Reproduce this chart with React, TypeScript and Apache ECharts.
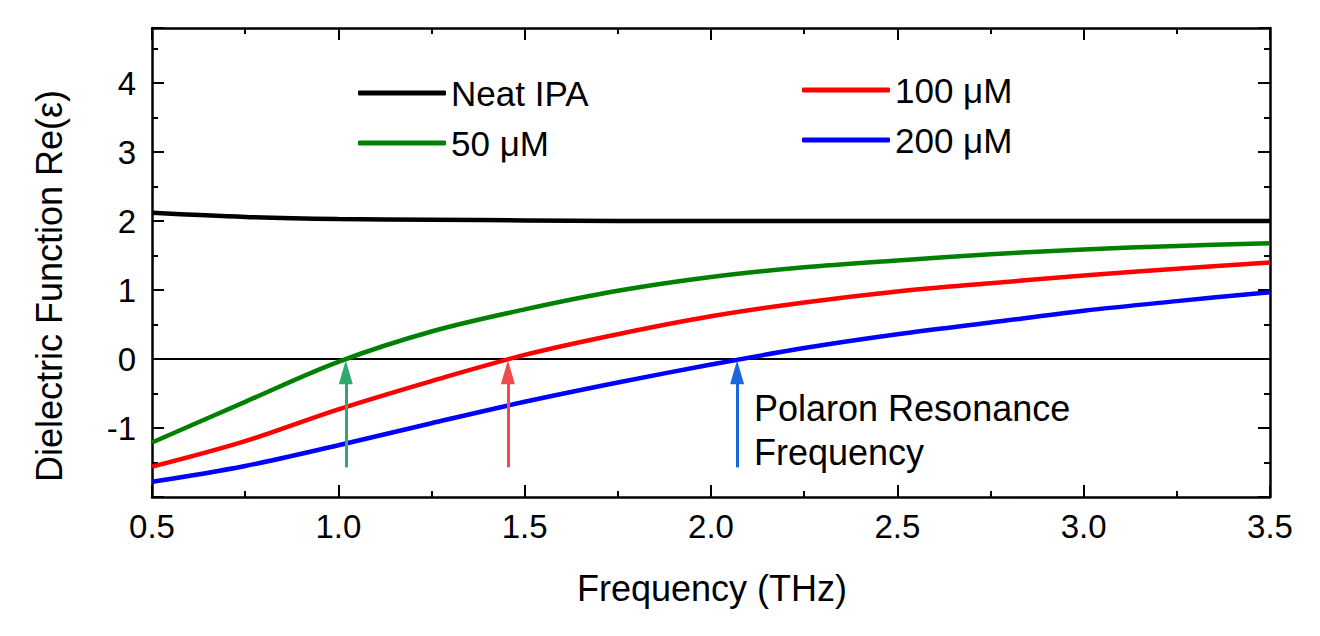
import React, { useEffect, useRef } from "react";
import * as echarts from "echarts";

const FONT = '"Liberation Sans", Arial, Helvetica, sans-serif';

const freq = [0.5, 0.75, 1.0, 1.25, 1.5, 1.75, 2.0, 2.25, 2.5, 2.75, 3.0, 3.25, 3.5];
const neatIPA = [2.12, 2.06, 2.03, 2.02, 2.01, 2.0, 2.0, 2.0, 2.0, 2.0, 2.0, 2.0, 2.0];
const conc50 = [-1.21, -0.62, -0.04, 0.4, 0.72, 0.99, 1.19, 1.33, 1.43, 1.52, 1.59, 1.64, 1.68];
const conc100 = [-1.56, -1.19, -0.73, -0.32, 0.06, 0.36, 0.62, 0.82, 0.98, 1.1, 1.21, 1.31, 1.4];
const conc200 = [-1.78, -1.55, -1.25, -0.93, -0.62, -0.34, -0.08, 0.16, 0.36, 0.53, 0.7, 0.84, 0.97];

const seriesNames = ["Neat IPA", "50 μM", "100 μM", "200 μM"];
const seriesColors = ["#000000", "#008000", "#ff0000", "#0000ff"];
const seriesValues = [neatIPA, conc50, conc100, conc200];

// Polaron resonance frequencies (zero crossings) for 50, 100, 200 μM
const resonanceFreqs = [1.02, 1.455, 2.07];
const arrowColors = ["#2fa96c", "#f24a4c", "#1a66dc"];
const arrowStart = -1.57;
const arrowEnd = -0.19;

const xTicks = { min: 0.5, max: 3.5, interval: 0.5 };
const yTicks = { min: -2, max: 4.8, interval: 1 };

export default function App() {
  const ref = useRef<HTMLDivElement>(null);

  useEffect(() => {
    if (!ref.current) return;
    const chart = echarts.init(ref.current, undefined, { renderer: "svg" });

    const axisLine = { show: true, onZero: false, lineStyle: { color: "#000", width: 2.5 } };
    const majorTick = { show: true, inside: true, length: 12, lineStyle: { color: "#000", width: 2 } };
    const minorTickX = { show: true, splitNumber: 2, length: 6, lineStyle: { color: "#000", width: 2 } };
    const halfTick = { show: true, inside: true, length: 6, lineStyle: { color: "#000", width: 2 } };

    const xBase = {
      type: "value",
      min: xTicks.min,
      max: xTicks.max,
      interval: xTicks.interval,
      axisLine,
      axisTick: majorTick,
      minorTick: minorTickX,
      splitLine: { show: false },
      minorSplitLine: { show: false },
    };
    const yBase = {
      type: "value",
      min: yTicks.min,
      max: yTicks.max,
      splitLine: { show: false },
    };

    const series: any[] = seriesValues.map((vals, i) => ({
      name: seriesNames[i],
      type: "line",
      xAxisIndex: 0,
      yAxisIndex: 0,
      data: freq.map((f, j) => [f, vals[j]]),
      smooth: 0.35,
      showSymbol: false,
      symbol: "none",
      lineStyle: { color: seriesColors[i], width: 4.5 },
      itemStyle: { color: seriesColors[i] },
      emphasis: { disabled: true },
      z: 2,
    }));

    series[0].markLine = {
      silent: true,
      z: 1,
      symbol: ["none", "none"],
      label: { show: false },
      emphasis: { disabled: true },
      lineStyle: { color: "#000", width: 2, type: "solid" },
      data: [{ yAxis: 0 }],
    };

    resonanceFreqs.forEach((f, i) => {
      series[i + 1].markLine = {
        silent: true,
        z: 5,
        symbol: ["none", "triangle"],
        symbolSize: [14, 24],
        label: { show: false },
        emphasis: { disabled: true },
        lineStyle: { color: arrowColors[i], width: 3, type: "solid", opacity: 1 },
        itemStyle: { color: arrowColors[i] },
        data: [[{ coord: [f, arrowStart] }, { coord: [f, arrowEnd] }]],
      };
    });

    const legendCommon = {
      orient: "vertical",
      padding: 0,
      itemGap: 10,
      itemWidth: 88,
      itemHeight: 5,
      icon: "roundRect",
      selectedMode: false,
      textStyle: { fontFamily: FONT, fontSize: 35, lineHeight: 40, color: "#000" },
    };

    const option: any = {
      animation: false,
      backgroundColor: "#ffffff",
      textStyle: { fontFamily: FONT },
      grid: { left: 152, right: 50, top: 28, bottom: 139, containLabel: false },
      legend: [
        { ...legendCommon, left: 358, top: 73, data: [seriesNames[0], seriesNames[1]] },
        { ...legendCommon, left: 802, top: 70, data: [seriesNames[2], seriesNames[3]] },
      ],
      xAxis: [
        {
          ...xBase,
          position: "bottom",
          axisLabel: {
            color: "#000",
            fontSize: 33,
            fontFamily: FONT,
            margin: 13,
            formatter: (v: number) => v.toFixed(1),
          },
        },
        { ...xBase, position: "top", axisLabel: { show: false } },
      ],
      yAxis: [
        {
          ...yBase,
          position: "left",
          interval: yTicks.interval,
          axisLine,
          axisTick: majorTick,
          axisLabel: {
            color: "#000",
            fontSize: 33,
            fontFamily: FONT,
            margin: 16,
            formatter: (v: number) => (v <= yTicks.min || v > 4.5 ? "" : String(v)),
          },
        },
        {
          ...yBase,
          position: "left",
          interval: yTicks.interval / 2,
          axisLine: { show: false },
          axisTick: halfTick,
          axisLabel: { show: false },
        },
        {
          ...yBase,
          position: "right",
          interval: yTicks.interval,
          axisLine,
          axisTick: majorTick,
          axisLabel: { show: false },
        },
        {
          ...yBase,
          position: "right",
          interval: yTicks.interval / 2,
          axisLine: { show: false },
          axisTick: halfTick,
          axisLabel: { show: false },
        },
      ],
      graphic: [
        {
          type: "text",
          x: 49,
          y: 286,
          rotation: Math.PI / 2,
          style: {
            text: "Dielectric Function Re(ε)",
            x: 0,
            y: 0,
            fill: "#000",
            font: `36px ${FONT}`,
            textAlign: "center",
            textVerticalAlign: "middle",
            align: "center",
            verticalAlign: "middle",
          },
        },
        {
          type: "text",
          x: 712,
          y: 588,
          style: {
            text: "Frequency (THz)",
            fill: "#000",
            font: `36px ${FONT}`,
            textAlign: "center",
            textVerticalAlign: "middle",
            align: "center",
            verticalAlign: "middle",
          },
        },
        {
          type: "text",
          x: 754,
          y: 408,
          style: {
            text: "Polaron Resonance",
            fill: "#000",
            font: `36px ${FONT}`,
            textAlign: "left",
            textVerticalAlign: "middle",
            align: "left",
            verticalAlign: "middle",
          },
        },
        {
          type: "text",
          x: 754,
          y: 452,
          style: {
            text: "Frequency",
            fill: "#000",
            font: `36px ${FONT}`,
            textAlign: "left",
            textVerticalAlign: "middle",
            align: "left",
            verticalAlign: "middle",
          },
        },
      ],
      series,
    };

    chart.setOption(option);
    return () => chart.dispose();
  }, []);

  return (
    <div
      ref={ref}
      style={{ position: "fixed", left: 0, top: 0, width: 1320, height: 636, background: "#fff" }}
    />
  );
}
